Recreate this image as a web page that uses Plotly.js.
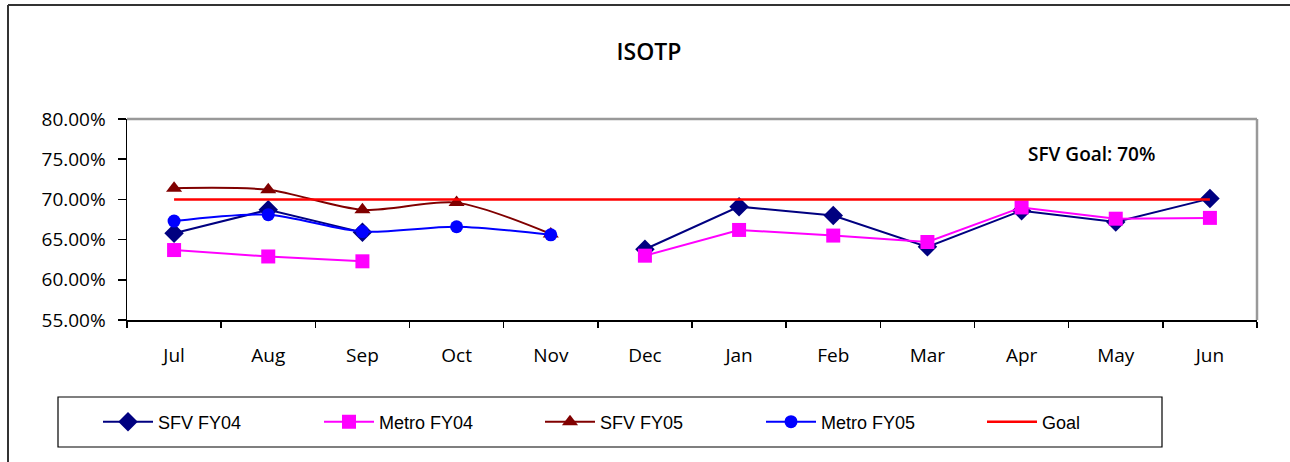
<!DOCTYPE html>
<html>
<head>
<meta charset="utf-8">
<script src="https://cdn.plot.ly/plotly-3.0.1.min.js"></script>
<style>
html,body{margin:0;padding:0;background:#fff;}
#chart{width:1290px;height:462px;}
</style>
</head>
<body>
<div id="chart"></div>
<script>
const months = ["Jul","Aug","Sep","Oct","Nov","Dec","Jan","Feb","Mar","Apr","May","Jun"];
const sfvFY04   = [65.8, 68.7, 65.9, null, null, 63.8, 69.1, 68.0, 64.1, 68.6, 67.2, 70.1];
const metroFY04 = [63.7, 62.9, 62.3, null, null, 63.0, 66.2, 65.5, 64.7, 69.0, 67.6, 67.7];
const sfvFY05   = [71.4, 71.2, 68.7, 69.6, 65.7, null, null, null, null, null, null, null];
const metroFY05 = [67.3, 68.1, 66.0, 66.6, 65.6, null, null, null, null, null, null, null];
const goal      = [70, 70, 70, 70, 70, 70, 70, 70, 70, 70, 70, 70];
const yTicks = [55, 60, 65, 70, 75, 80];
const yTickText = ["55.00%","60.00%","65.00%","70.00%","75.00%","80.00%"];

const traces = [
  {name:"SFV FY04", x:months, y:sfvFY04, type:"scatter", mode:"lines+markers",
   line:{color:"#000080", width:2}, marker:{symbol:"diamond", size:15, color:"#000080"}},
  {name:"Metro FY04", x:months, y:metroFY04, type:"scatter", mode:"lines+markers",
   line:{color:"#FF00FF", width:2}, marker:{symbol:"square", size:14, color:"#FF00FF"}},
  {name:"SFV FY05", x:months, y:sfvFY05, type:"scatter", mode:"lines+markers",
   line:{color:"#800000", width:2, shape:"spline", smoothing:0.8}, marker:{symbol:"triangle-up", size:14, color:"#800000"}},
  {name:"Metro FY05", x:months, y:metroFY05, type:"scatter", mode:"lines+markers",
   line:{color:"#0000FF", width:2, shape:"spline", smoothing:0.8}, marker:{symbol:"circle", size:13, color:"#0000FF"}},
  {name:"Goal", x:months, y:goal, type:"scatter", mode:"lines",
   line:{color:"#FF0000", width:2.5}}
];

const L=127, R=1257, T=119, B=320;
const px = v => (v-L)/(R-L);
const py = v => (B-v)/(B-T);

const layout = {
  width:1290, height:462,
  margin:{l:L, r:1290-R, t:T, b:462-B, pad:0},
  paper_bgcolor:"#fff", plot_bgcolor:"#fff",
  font:{family:"Open Sans, Noto Sans, sans-serif", color:"#000"},
  title:{text:"ISOTP", x:px(649), xref:"paper", xanchor:"center", y:1-52/462, yanchor:"middle",
         font:{size:23, family:"Open Sans", weight:600, color:"#000"}},
  showlegend:true,
  legend:{orientation:"h", x:px(98), xanchor:"left", y:py(422), yanchor:"middle",
          entrywidth:156, entrywidthmode:"pixels", itemwidth:50,
          font:{family:"Liberation Sans, Arial, sans-serif", size:18, color:"#000"},
          bgcolor:"rgba(0,0,0,0)", borderwidth:0, traceorder:"normal"},
  xaxis:{type:"category", range:[-0.5, 11.5], tickson:"boundaries", ticks:"outside", ticklen:6,
         tickcolor:"#000", tickwidth:1.5, showline:true, linecolor:"#000", linewidth:1.5,
         showgrid:false, zeroline:false, fixedrange:true, ticklabelstandoff:18,
         tickfont:{size:19, family:"Open Sans", color:"#000"}},
  yaxis:{range:[55, 80], tickvals:yTicks, ticktext:yTickText, ticks:"outside", ticklen:8,
         tickcolor:"#000", tickwidth:1.5, showline:true, linecolor:"#000", linewidth:1.5,
         showgrid:false, zeroline:false, fixedrange:true, ticklabelstandoff:8,
         tickfont:{size:19, family:"Open Sans", color:"#000"}},
  annotations:[{text:"SFV Goal: 70%", xref:"paper", yref:"paper", x:px(1091), y:py(154),
                xanchor:"center", yanchor:"middle", showarrow:false,
                font:{size:19, family:"Open Sans", weight:600, color:"#000"}}],
  shapes:[
    {type:"line", xref:"paper", yref:"paper", x0:0, x1:1, y0:1, y1:1, line:{color:"#999", width:2.5}},
    {type:"line", xref:"paper", yref:"paper", x0:1, x1:1, y0:0, y1:1, line:{color:"#999", width:2.5}},
    {type:"rect", xref:"paper", yref:"paper", x0:px(58), x1:px(1162), y0:py(447), y1:py(397),
     line:{color:"#000", width:1.2}, fillcolor:"rgba(0,0,0,0)"},
    {type:"line", xref:"paper", yref:"paper", x0:px(8), x1:px(1300), y0:py(5), y1:py(5), line:{color:"#333", width:2}},
    {type:"line", xref:"paper", yref:"paper", x0:px(8), x1:px(8), y0:py(5), y1:py(480), line:{color:"#333", width:2}}
  ]
};

Plotly.newPlot("chart", traces, layout, {displayModeBar:false, staticPlot:true});
</script>
</body>
</html>
